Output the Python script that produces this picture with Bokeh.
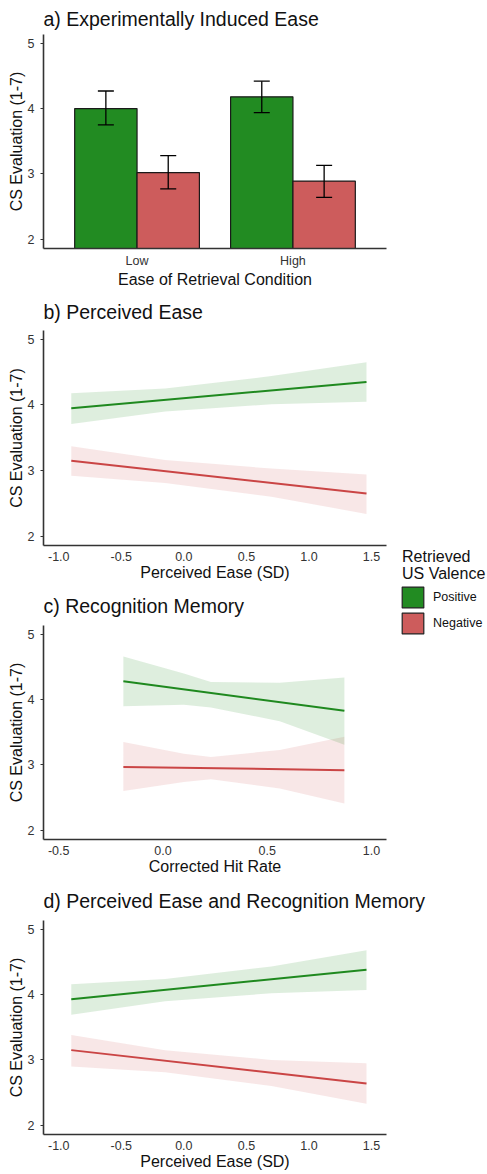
from bokeh.plotting import figure
from bokeh.models import (FactorRange, Range1d, FixedTicker, PrintfTickFormatter, Whisker,
                          TeeHead, ColumnDataSource, Legend, LegendItem, Label, Spacer, Title)
from bokeh.transform import dodge
from bokeh.layouts import column, row
from bokeh.embed import file_html
from bokeh.resources import INLINE

# ---------------- data ----------------
# a) Experimentally induced ease (bar means with error bars)
conditions = ["Low", "High"]
pos_mean = [4.00, 4.18]
pos_lower = [3.75, 3.94]
pos_upper = [4.27, 4.42]
neg_mean = [3.02, 2.89]
neg_lower = [2.77, 2.64]
neg_upper = [3.28, 3.13]

# b) Perceived ease
b_fit_x = [-0.90, 1.46]
b_pos_fit = [3.95, 4.35]
b_neg_fit = [3.15, 2.65]
b_band_x = [-0.90, -0.15, 0.70, 1.46]
b_pos_upper = [4.18, 4.25, 4.44, 4.65]
b_pos_lower = [3.71, 3.90, 4.01, 4.05]
b_neg_upper = [3.37, 3.16, 3.03, 2.94]
b_neg_lower = [2.92, 2.81, 2.60, 2.34]

# c) Recognition memory
c_fit_x = [-0.19, 0.87]
c_pos_fit = [4.28, 3.83]
c_neg_fit = [2.97, 2.92]
c_band_x = [-0.19, 0.10, 0.23, 0.56, 0.87]
c_pos_upper = [4.66, 4.40, 4.27, 4.26, 4.34]
c_pos_lower = [3.90, 3.92, 3.88, 3.67, 3.31]
c_neg_upper = [3.35, 3.17, 3.12, 3.23, 3.43]
c_neg_lower = [2.60, 2.74, 2.78, 2.64, 2.41]

# d) Perceived ease and recognition memory
d_fit_x = [-0.90, 1.46]
d_pos_fit = [3.93, 4.38]
d_neg_fit = [3.15, 2.64]
d_band_x = [-0.90, -0.15, 0.70, 1.46]
d_pos_upper = [4.16, 4.24, 4.43, 4.68]
d_pos_lower = [3.69, 3.90, 4.02, 4.07]
d_neg_upper = [3.38, 3.15, 3.00, 2.95]
d_neg_lower = [2.90, 2.81, 2.60, 2.33]

ease_ticks = [-1.0, -0.5, 0.0, 0.5, 1.0, 1.5]
hit_ticks = [-0.5, 0.0, 0.5, 1.0]
y_ticks = [2, 3, 4, 5]

panel_titles = ["a) Experimentally Induced Ease", "b) Perceived Ease", "c) Recognition Memory",
                "d) Perceived Ease and Recognition Memory"]
legend_title = ["Retrieved", "US Valence"]
legend_labels = ["Positive", "Negative"]

# ---------------- style ----------------
FONT = "Liberation Sans"
GREEN = "#228B22"
RED = "#CD5C5C"
GREEN_LINE = "#1F891F"
RED_LINE = "#CA4545"
AXIS = "#333333"
TICKTXT = "#333333"
W = 392          # panel width (frame 43..386)
FULLW = 487
LEFT = 43


def style(p, title, xlabel, title_standoff):
    p.add_layout(Title(text=title, text_font=FONT, text_font_size="19.5px",
                       text_font_style="normal", text_color="#111111", align="left",
                       offset=0, standoff=title_standoff), "above")
    p.outline_line_color = None
    p.xgrid.visible = False
    p.ygrid.visible = False
    p.background_fill_color = "white"
    for ax in (p.xaxis[0], p.yaxis[0]):
        ax.axis_line_color = AXIS
        ax.axis_line_width = 1.6
        ax.minor_tick_line_color = None
        ax.major_label_text_font = FONT
        ax.major_label_text_font_size = "12.5px"
        ax.major_label_text_color = TICKTXT
        ax.axis_label_text_font = FONT
        ax.axis_label_text_font_size = "16px"
        ax.axis_label_text_font_style = "normal"
        ax.axis_label_text_color = "#111111"
    xa = p.xaxis[0]
    xa.axis_label = xlabel
    xa.major_tick_line_color = None
    xa.major_tick_out = 0
    xa.major_tick_in = 0
    xa.major_label_standoff = 6
    xa.axis_label_standoff = 0
    ya = p.yaxis[0]
    ya.axis_label = "CS Evaluation (1-7)"
    ya.ticker = FixedTicker(ticks=y_ticks)
    ya.major_tick_line_color = AXIS
    ya.major_tick_out = 3
    ya.major_tick_in = 0
    ya.major_label_standoff = 6
    ya.axis_label_standoff = 0


def yr():
    return Range1d(1.858, 5.135)


# ---------------- panel a ----------------
pa = figure(width=W, height=290, x_range=FactorRange(factors=conditions, range_padding=0.1,
            range_padding_units="absolute"), y_range=yr(),
            output_backend="svg", toolbar_location=None,
            min_border_left=LEFT, min_border_right=W - 386, min_border_top=34, min_border_bottom=42)
style(pa, panel_titles[0], "Ease of Retrieval Condition", 10)
pa.xaxis[0].major_label_standoff = 5
src_a = ColumnDataSource(dict(cond=conditions, pos=pos_mean, pos_lo=pos_lower, pos_hi=pos_upper,
                              neg=neg_mean, neg_lo=neg_lower, neg_hi=neg_upper))
pa.vbar(x=dodge("cond", -0.2, range=pa.x_range), top="pos", bottom=0, width=0.4, source=src_a,
        fill_color=GREEN, line_color="#1a1a1a", line_width=1.2)
pa.vbar(x=dodge("cond", 0.2, range=pa.x_range), top="neg", bottom=0, width=0.4, source=src_a,
        fill_color=RED, line_color="#1a1a1a", line_width=1.2)
for off, lo, hi in ((-0.2, "pos_lo", "pos_hi"), (0.2, "neg_lo", "neg_hi")):
    wk = Whisker(source=src_a, base=dodge("cond", off, range=pa.x_range), lower=lo, upper=hi,
                 line_color="black", line_width=1.3, level="overlay",
                 upper_head=TeeHead(size=16, line_color="black", line_width=1.3),
                 lower_head=TeeHead(size=16, line_color="black", line_width=1.3))
    pa.add_layout(wk)


# ---------------- line panels ----------------
def line_panel(title, xrange, ticks, xlabel, width, height, top, bottom, standoff,
               band_x, pu, pl_, nu, nl, fit_x, pf, nf):
    p = figure(width=width, height=height, x_range=xrange, y_range=yr(),
               output_backend="svg", toolbar_location=None,
               min_border_left=LEFT, min_border_right=width - 386, min_border_top=top,
               min_border_bottom=bottom)
    style(p, title, xlabel, standoff)
    p.xaxis[0].ticker = FixedTicker(ticks=ticks)
    p.xaxis[0].formatter = PrintfTickFormatter(format="%.1f")
    p.varea(x=band_x, y1=nl, y2=nu, fill_color=RED, fill_alpha=0.15)
    p.varea(x=band_x, y1=pl_, y2=pu, fill_color=GREEN, fill_alpha=0.15)
    p.line(x=fit_x, y=pf, line_color=GREEN_LINE, line_width=2)
    p.line(x=fit_x, y=nf, line_color=RED_LINE, line_width=2)
    return p


pb = line_panel(panel_titles[1], Range1d(-1.122, 1.62), ease_ticks, "Perceived Ease (SD)",
                W, 294, 40, 39, 16, b_band_x, b_pos_upper, b_pos_lower, b_neg_upper, b_neg_lower,
                b_fit_x, b_pos_fit, b_neg_fit)
pc = line_panel(panel_titles[2], Range1d(-0.573, 1.072), hit_ticks, "Corrected Hit Rate",
                W, 295, 41, 40, 17, c_band_x, c_pos_upper, c_pos_lower, c_neg_upper, c_neg_lower,
                c_fit_x, c_pos_fit, c_neg_fit)
pd = line_panel(panel_titles[3], Range1d(-1.122, 1.62), ease_ticks,
                "Perceived Ease (SD)", FULLW, 294, 41, 39, 17, d_band_x, d_pos_upper, d_pos_lower,
                d_neg_upper, d_neg_lower, d_fit_x, d_pos_fit, d_neg_fit)

# ---------------- legend ----------------
LW, LH = FULLW - W, 95
pl = figure(width=LW, height=LH, x_range=Range1d(0, LW), y_range=Range1d(0, LH),
            x_axis_location=None, y_axis_location=None, output_backend="svg",
            toolbar_location=None, min_border=0)
pl.outline_line_color = None
pl.xgrid.visible = False
pl.ygrid.visible = False
nan = float("nan")
r_pos = pl.vbar(x=[nan], top=[nan], width=1, fill_color=GREEN, line_color="#222222", line_width=1.2)
r_neg = pl.vbar(x=[nan], top=[nan], width=1, fill_color=RED, line_color="#222222", line_width=1.2)
for txt, yy in zip(legend_title, (84.3, 67.0)):
    pl.add_layout(Label(x=9.5, y=yy, text=txt, text_font=FONT, text_font_size="16px",
                        text_baseline="alphabetic", text_color="#111111"))
leg = Legend(items=[LegendItem(label=legend_labels[0], renderers=[r_pos]),
                    LegendItem(label=legend_labels[1], renderers=[r_neg])],
             location=(7, 4), glyph_width=27, glyph_height=26, spacing=-3, padding=0, margin=0,
             label_standoff=7, label_text_font=FONT, label_text_font_size="12.5px",
             label_text_color="#111111", border_line_color=None, background_fill_alpha=0)
pl.add_layout(leg)

top_block = row(column(pa, pb, pc), column(Spacer(width=LW, height=545), pl))
layout = column(top_block, pd)

open("out.html", "w").write(file_html(layout, INLINE))
